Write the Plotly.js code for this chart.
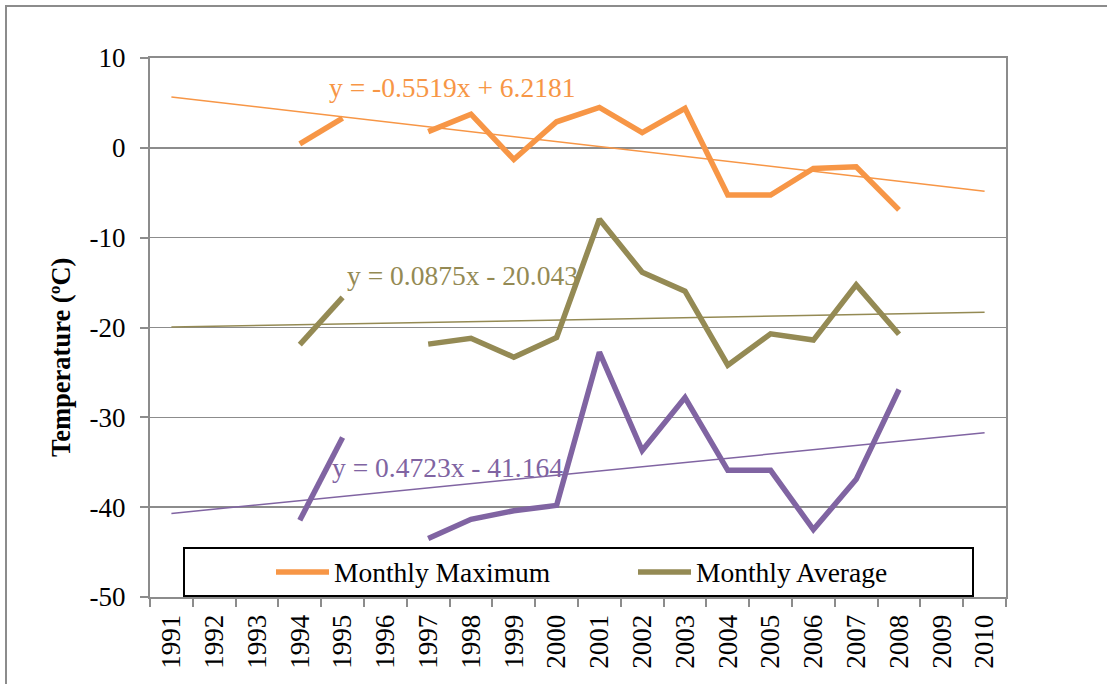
<!DOCTYPE html>
<html>
<head>
<meta charset="utf-8">
<script src="https://cdn.plot.ly/plotly-3.0.1.min.js"></script>
<style>
  html, body { margin: 0; padding: 0; background: #fff; }
  #chart { width: 1107px; height: 684px; position: absolute; left: 0; top: 0; }
  #frame { position: absolute; left: 5px; top: 5px; width: 1110px; height: 690px;
           border-left: 2px solid #8c8c8c; border-top: 2px solid #8c8c8c; pointer-events: none; }
</style>
</head>
<body>
<div id="chart"></div>
<div id="frame"></div>
<script>
// ---- data ----
const years = ["1991","1992","1993","1994","1995","1996","1997","1998","1999","2000",
               "2001","2002","2003","2004","2005","2006","2007","2008","2009","2010"];
const monthlyMaximum = [null, null, null, 0.45, 3.3, null, 1.8, 3.75, -1.3, 2.9,
                        4.5, 1.7, 4.4, -5.25, -5.25, -2.3, -2.1, -6.9, null, null];
const monthlyAverage = [null, null, null, -21.9, -16.65, null, -21.85, -21.2, -23.3, -21.1,
                        -7.95, -13.85, -15.95, -24.2, -20.7, -21.4, -15.25, -20.75, null, null];
const monthlyMinimum = [null, null, null, -41.45, -32.25, null, -43.5, -41.35, -40.4, -39.8,
                        -22.75, -33.7, -27.8, -35.9, -35.9, -42.5, -36.9, -26.9, null, null];
const seriesNames = ["Monthly Maximum", "Monthly Average", "Monthly Minimum"];
// trendline coefficients as printed on the chart (x = 1 .. 20)
const trendSlopes = [-0.5519, 0.0875, 0.4723];
const trendIntercepts = [6.2181, -20.043, -41.164];
const trendLabels = ["y = -0.5519x + 6.2181", "y = 0.0875x - 20.043", "y = 0.4723x - 41.164"];
const yTicks = [-50, -40, -30, -20, -10, 0, 10];
const yTitle = "Temperature (ºC)";

// ---- style ----
const colors = ["#F79646", "#948A54", "#8064A2"];
const serif = "Liberation Serif, Times New Roman, serif";
const seriesValues = [monthlyMaximum, monthlyAverage, monthlyMinimum];

const traces = [];
// trendlines (thin), drawn first
for (let i = 0; i < 3; i++) {
  const xs = [years[0], years[years.length - 1]];
  const ys = [trendSlopes[i] * 1 + trendIntercepts[i],
              trendSlopes[i] * years.length + trendIntercepts[i]];
  traces.push({
    x: xs, y: ys, type: "scatter", mode: "lines",
    line: { color: colors[i], width: 1.5 },
    showlegend: false, hoverinfo: "skip"
  });
}
for (let i = 0; i < 3; i++) {
  traces.push({
    x: years, y: seriesValues[i], type: "scatter", mode: "lines",
    name: seriesNames[i], connectgaps: false,
    line: { color: colors[i], width: 5.5, shape: "linear" },
    showlegend: false
  });
}

// paper-coordinate helpers (plot area 150..1006 x 58..597)
const W = 856, H = 539, L = 150, B = 597;
const px = v => (v - L) / W;
const py = v => (B - v) / H;

const legendY = py(572);
const shapes = [
  { type: "rect", xref: "paper", yref: "paper", x0: px(184), x1: px(973), y0: py(596), y1: py(548),
    line: { color: "#000", width: 2 }, fillcolor: "#fff", layer: "above" },
  { type: "line", xref: "paper", yref: "paper", x0: px(276), x1: px(329), y0: legendY, y1: legendY,
    line: { color: colors[0], width: 5.5 }, layer: "above" },
  { type: "line", xref: "paper", yref: "paper", x0: px(638), x1: px(691), y0: legendY, y1: legendY,
    line: { color: colors[1], width: 5.5 }, layer: "above" }
];

const annotations = [
  { xref: "paper", yref: "paper", x: px(332), y: legendY, xanchor: "left", yanchor: "middle",
    text: seriesNames[0], showarrow: false, font: { family: serif, size: 27.5, color: "#000" } },
  { xref: "paper", yref: "paper", x: px(694), y: legendY, xanchor: "left", yanchor: "middle",
    text: seriesNames[1], showarrow: false, font: { family: serif, size: 27.5, color: "#000" } },
  { xref: "paper", yref: "paper", x: px(327), y: py(88), xanchor: "left", yanchor: "middle",
    text: trendLabels[0], showarrow: false, font: { family: serif, size: 27.5, color: colors[0] } },
  { xref: "paper", yref: "paper", x: px(345), y: py(275), xanchor: "left", yanchor: "middle",
    text: trendLabels[1], showarrow: false, font: { family: serif, size: 27.5, color: colors[1] } },
  { xref: "paper", yref: "paper", x: px(330), y: py(467), xanchor: "left", yanchor: "middle",
    text: trendLabels[2], showarrow: false, font: { family: serif, size: 27.5, color: colors[2] } },
  { xref: "paper", yref: "paper", x: px(61), y: py(358), xanchor: "center", yanchor: "middle",
    textangle: -90, text: "<b>" + yTitle + "</b>", showarrow: false,
    font: { family: serif, size: 26.5, color: "#000" } }
];

const layout = {
  width: 1107, height: 684,
  margin: { l: 150, r: 101, t: 58, b: 87, pad: 0 },
  paper_bgcolor: "rgba(0,0,0,0)", plot_bgcolor: "#fff",
  showlegend: false,
  font: { family: serif, size: 27, color: "#000" },
  xaxis: {
    type: "category", categoryorder: "array", categoryarray: years,
    range: [-0.5, years.length - 0.5],
    tickson: "boundaries", ticks: "outside", ticklen: 8, tickwidth: 2, tickcolor: "#8c8c8c",
    ticklabelstandoff: 5,
    tickangle: -90, tickfont: { family: serif, size: 27, color: "#000" },
    showgrid: false, showline: true, linecolor: "#8c8c8c", linewidth: 2, mirror: true,
    zeroline: false, fixedrange: true, automargin: false
  },
  yaxis: {
    range: [-50, 10], tickmode: "array", tickvals: yTicks, ticktext: yTicks.map(String),
    ticks: "outside", ticklen: 8, tickwidth: 2, tickcolor: "#8c8c8c",
    ticklabelstandoff: 9,
    tickfont: { family: serif, size: 27, color: "#000" },
    showgrid: true, gridcolor: "#8c8c8c", gridwidth: 1.5,
    showline: true, linecolor: "#8c8c8c", linewidth: 2, mirror: true,
    zeroline: false, fixedrange: true, automargin: false
  },
  shapes: shapes,
  annotations: annotations
};

Plotly.newPlot("chart", traces, layout, { displayModeBar: false, staticPlot: true });
</script>
</body>
</html>
